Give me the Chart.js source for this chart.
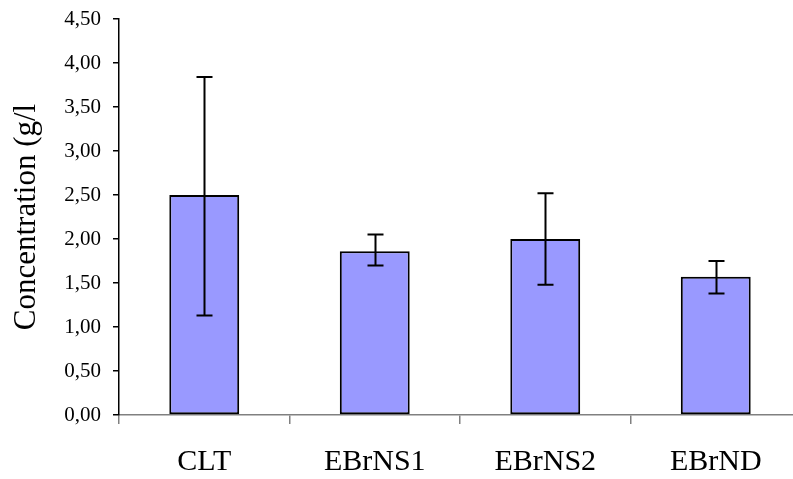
<!DOCTYPE html>
<html>
<head>
<meta charset="utf-8">
<script src="https://cdn.jsdelivr.net/npm/chart.js@4/dist/chart.umd.min.js"></script>
<style>
  html, body { margin: 0; padding: 0; background: #fff; overflow: hidden; }
  #wrap { position: relative; width: 801px; height: 479px; }
</style>
</head>
<body>
<div id="wrap"><canvas id="chart"></canvas></div>
<script>
// data
const categories = ['CLT', 'EBrNS1', 'EBrNS2', 'EBrND'];
const means = [2.50, 1.86, 2.00, 1.57];
const errLow = [1.13, 1.70, 1.48, 1.38];
const errHigh = [3.84, 2.05, 2.52, 1.75];
const yTicks = [0, 0.5, 1, 1.5, 2, 2.5, 3, 3.5, 4, 4.5];

const serif = "'Liberation Serif', 'Times New Roman', serif";

// error bars drawn through the y scale
const errorBars = {
    id: 'errorBars',
    afterDatasetsDraw(chart) {
        const ctx = chart.ctx;
        const y = chart.scales.y;
        const meta = chart.getDatasetMeta(0);
        ctx.save();
        ctx.strokeStyle = '#000';
        ctx.lineWidth = 2;
        meta.data.forEach((bar, i) => {
            const x = Math.round(bar.x) + 0.5;
            const top = y.getPixelForValue(errHigh[i]);
            const bot = y.getPixelForValue(errLow[i]);
            ctx.beginPath();
            ctx.moveTo(x, top);
            ctx.lineTo(x, bot);
            ctx.moveTo(x - 8, top);
            ctx.lineTo(x + 8, top);
            ctx.moveTo(x - 8, bot);
            ctx.lineTo(x + 8, bot);
            ctx.stroke();
        });
        ctx.restore();
    }
};

new Chart(document.getElementById('chart'), {
    type: 'bar',
    data: {
        labels: categories,
        datasets: [{
            data: means,
            backgroundColor: '#9999ff',
            borderColor: '#000',
            borderWidth: 2,
            borderSkipped: false,
            categoryPercentage: 1,
            barPercentage: 0.41
        }]
    },
    options: {
        responsive: true,
        maintainAspectRatio: false,
        animation: false,
        layout: { padding: { top: 19, left: 0, right: 0, bottom: 0 } },
        plugins: {
            legend: { display: false },
            tooltip: { enabled: false }
        },
        scales: {
            x: {
                afterFit: s => { s.height = 64; s.paddingLeft = 0; s.paddingRight = 0; },
                border: { color: '#808080', width: 1.5 },
                grid: { offset: true, drawOnChartArea: false, tickLength: 9, color: '#808080', lineWidth: 1.5 },
                ticks: { color: '#000', padding: 20, font: { family: serif, size: 30 } }
            },
            y: {
                min: 0,
                max: 4.5,
                afterFit: s => { s.width = 119; s.paddingTop = 0; s.paddingBottom = 0; },
                afterBuildTicks: s => { s.ticks = yTicks.map(v => ({ value: v })); },
                border: { color: '#000', width: 1.5 },
                grid: { drawOnChartArea: false, tickLength: 6, color: '#000', lineWidth: 1.5 },
                ticks: {
                    color: '#000',
                    padding: 12,
                    font: { family: serif, size: 21 },
                    callback: v => v.toFixed(2).replace('.', ',')
                },
                title: {
                    display: true,
                    text: 'Concentration (g/l',
                    color: '#000',
                    padding: { top: 8, bottom: 0 },
                    font: { family: serif, size: 31 }
                }
            }
        }
    },
    plugins: [errorBars]
});
</script>
</body>
</html>
